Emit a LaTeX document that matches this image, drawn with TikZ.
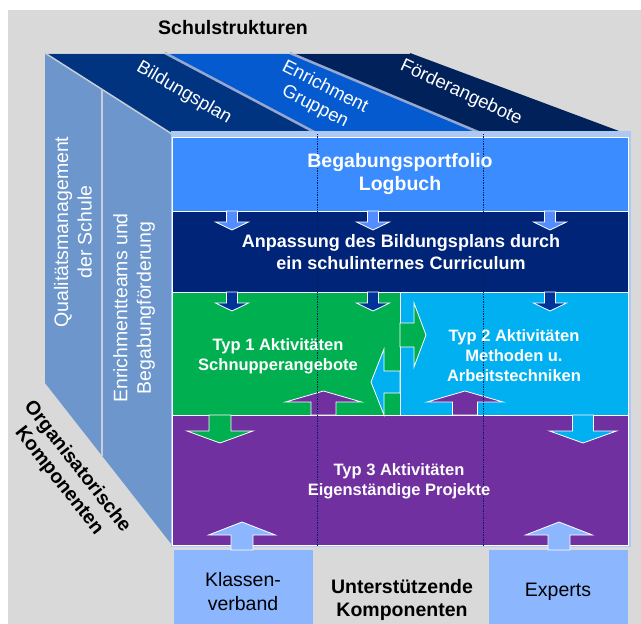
\documentclass[tikz,border=0pt]{standalone}
\usepackage{fontspec}
\setmainfont{Liberation Sans}

\definecolor{bggray}{RGB}{217,217,217}
\definecolor{topA}{RGB}{0,51,128}
\definecolor{topB}{RGB}{4,90,206}
\definecolor{topC}{RGB}{0,33,90}
\definecolor{leftface}{RGB}{108,150,204}
\definecolor{rimblue}{RGB}{172,200,245}
\definecolor{portblue}{RGB}{58,140,255}
\definecolor{navyband}{RGB}{0,36,119}
\definecolor{typgreen}{RGB}{0,176,80}
\definecolor{typcyan}{RGB}{0,176,240}
\definecolor{typpurple}{RGB}{112,48,160}
\definecolor{arrowlight}{RGB}{84,141,255}
\definecolor{arrowdark}{RGB}{0,51,153}
\definecolor{boxblue}{RGB}{140,183,255}
\definecolor{guidenavy}{RGB}{0,32,96}

\tikzstyle{band} = [draw=white, line width=0.8]
\tikzstyle{blockarrow} = [draw=white, line width=0.8]
\tikzstyle{seam} = [draw={rgb,255:red,150;green,168;blue,208}, line width=2.5]
\tikzstyle{edge} = [draw={rgb,255:red,200;green,205;blue,215}, line width=1.5]
\tikzstyle{guide} = [draw=guidenavy, line width=0.7, densely dotted]
\tikzstyle{hdr} = [font=\bfseries\fontsize{19.5}{23}\selectfont, align=center]
\tikzstyle{plain} = [font=\fontsize{19.5}{24}\selectfont, align=center]
\tikzstyle{sidelabel} = [text=white, font=\fontsize{19.5}{23.5}\selectfont, align=center]
\tikzstyle{toplabel} = [text=white, font=\fontsize{18.5}{22}\selectfont, align=center]
\tikzstyle{biglabel} = [text=white, font=\bfseries\fontsize{19.5}{23.5}\selectfont, align=center]
\tikzstyle{midlabel} = [text=white, font=\bfseries\fontsize{18}{21.5}\selectfont, align=center]
\tikzstyle{typlabel} = [text=white, font=\bfseries\fontsize{16.5}{20}\selectfont, align=center]

% vertical block arrow: centre x, base y, head y, tip y, half shaft, half head, colour
\newcommand{\vblock}[7]{%
  \filldraw[blockarrow, fill=#7] (#1-#5,#2) -- (#1-#5,#3) -- (#1-#6,#3) -- (#1,#4)
    -- (#1+#6,#3) -- (#1+#5,#3) -- (#1+#5,#2) -- cycle;}
% horizontal block arrow: centre y, base x, head x, tip x, half shaft, half head, colour
\newcommand{\hblock}[7]{%
  \filldraw[blockarrow, fill=#7] (#2,#1-#5) -- (#3,#1-#5) -- (#3,#1-#6) -- (#4,#1)
    -- (#3,#1+#6) -- (#3,#1+#5) -- (#2,#1+#5) -- cycle;}

\begin{document}
\begin{tikzpicture}[x=1pt,y=-1pt]
		\useasboundingbox (0,0) rectangle (641,624);
		\fill[bggray] (8,10) rectangle (641,624);
		
		%top face
		\fill[topA] (45,53) -- (165,53) -- (318,134) -- (172,134) -- cycle;
		\fill[topB] (165,53) -- (290,53) -- (483,134) -- (318,134) -- cycle;
		\fill[topC] (290,53) -- (410,53) -- (627,134) -- (483,134) -- cycle;
		\draw[seam] (165,53) -- (318,134);
		\draw[seam] (290,53) -- (483,134);
		\draw[edge, line width=1] (45,53) -- (410,53);
		
		%left face
		\fill[leftface] (45,53) -- (172,134) -- (172,545) -- (45,383) -- cycle;
		\draw[edge] (45,53) -- (172,134);
		\draw[edge] (102,90) -- (102,456);
		
		%front face
		\fill[rimblue] (171,131) rectangle (631,547);
		\filldraw[band, fill=portblue] (172,137) rectangle (628,211);
		\filldraw[band, fill=navyband] (172,211) rectangle (628,292);
		\filldraw[band, fill=typgreen] (172,292) rectangle (400,415);
		\filldraw[band, fill=typcyan] (400,292) rectangle (628,415);
		\filldraw[band, fill=typpurple] (172,415) rectangle (628,545);
		
		%supporting boxes
		\fill[boxblue] (174,550) rectangle (313,624);
		\fill[boxblue] (489,550) rectangle (628,624);
		
		%arrows
		\vblock{232}{211}{222}{230}{5.5}{16.5}{arrowlight}
		\vblock{373}{211}{222}{230}{5.5}{16.5}{arrowlight}
		\vblock{550}{211}{222}{230}{5.5}{16.5}{arrowlight}
		\vblock{232}{292}{303}{311}{5.5}{16.5}{arrowdark}
		\vblock{373}{292}{303}{311}{5.5}{16.5}{arrowdark}
		\vblock{550}{292}{303}{311}{5.5}{16.5}{arrowdark}
		\hblock{335}{400}{414}{426}{12}{32}{typgreen}
		\hblock{382}{400}{384}{371}{11}{33}{typcyan}
		\vblock{323.5}{415}{402}{391}{12.5}{38}{typpurple}
		\vblock{465}{415}{402}{391}{12.5}{38}{typpurple}
		\vblock{220}{415}{431}{443}{11}{33}{typgreen}
		\vblock{583}{415}{431}{443}{10.5}{33.5}{typcyan}
		\vblock{242}{550}{535}{522}{11}{33.5}{boxblue}
		\vblock{559}{550}{535}{522}{11}{33.5}{boxblue}
		
		%dotted guides
		\draw[guide] (317,134) -- (317,547);
		\draw[guide] (483,134) -- (483,547);
		
		%labels
		\node[hdr] (schul) at (233,28) {Schulstrukturen};
		\node[toplabel, rotate=-30] (bild) at (184,93) {Bildungsplan};
		\node[toplabel, rotate=-27] (enrich) at (320,97) {Enrichment\\Gruppen};
		\node[toplabel, rotate=-25] (foerder) at (461,93) {Förderangebote};
		\node[sidelabel, rotate=90] (quali) at (73,232) {Qualitätsmanagement\\der Schule};
		\node[sidelabel, rotate=90] (teams) at (134,308) {Enrichmentteams und\\Begabungförderung};
		\node[hdr, rotate=-52] (orga) at (68,474) {Organisatorische\\Komponenten};
		\node[biglabel] (portfolio) at (400,174) {Begabungsportfolio\\Logbuch};
		\node[midlabel] (anpass) at (401,252) {Anpassung des Bildungsplans durch\\ein schulinternes Curriculum};
		\node[typlabel] (typ1) at (278,356) {Typ 1 Aktivitäten\\Schnupperangebote};
		\node[typlabel] (typ2) at (514,356) {Typ 2 Aktivitäten\\Methoden u.\\Arbeitstechniken};
		\node[typlabel] (typ3) at (399,481) {Typ 3 Aktivitäten\\Eigenständige Projekte};
		\node[plain] (klasse) at (243,592) {Klassen-\\verband};
		\node[hdr] (unterst) at (402,600) {Unterstützende\\Komponenten};
		\node[plain] (experts) at (558,592) {Experts};
\end{tikzpicture}
\end{document}
